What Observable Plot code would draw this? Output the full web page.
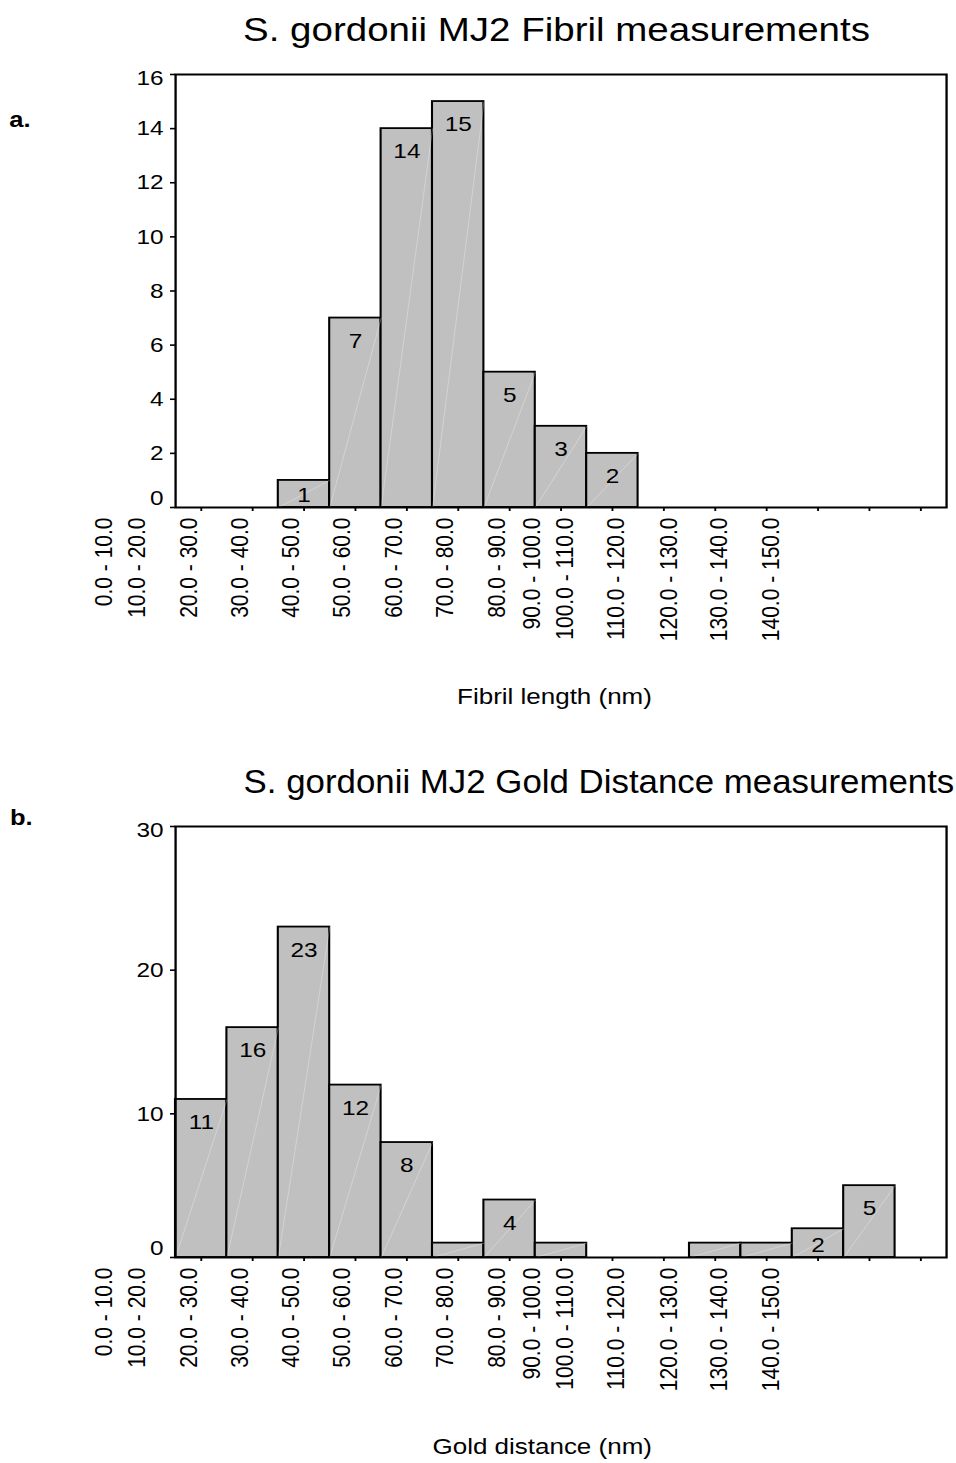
<!DOCTYPE html>
<html>
<head>
<meta charset="utf-8">
<script src="https://cdn.jsdelivr.net/npm/d3@7"></script>
<script src="https://cdn.jsdelivr.net/npm/@observablehq/plot@0.6"></script>
<style>
  html, body { margin: 0; padding: 0; background: #fff; overflow: hidden; }
  #stage { position: relative; width: 824.14px; height: 1463px; transform: scaleX(1.16); transform-origin: 0 0;
           font-family: "Liberation Sans", Arial, Helvetica, sans-serif; color: #000; }
  .abs { position: absolute; white-space: nowrap; line-height: 1; }
  .title { font-size: 33.2px; }
  .titleB { transform: scaleX(0.905); transform-origin: 0 0; }
  .panel { font-size: 22px; font-weight: bold; }
  .xtitle { font-size: 22.4px; text-align: right; }
</style>
</head>
<body>
<div id="stage">
  <div class="abs title" style="left:209.5px; top:13px;">S. gordonii MJ2 Fibril measurements</div>
  <div class="abs panel" style="left:8px; top:109px;">a.</div>
  <div class="abs" id="chartA" style="left:0; top:60px;"></div>
  <div class="abs xtitle" style="left:0; width:562px; top:686px;">Fibril length (nm)</div>

  <div class="abs title titleB" style="left:209.5px; top:765px;">S. gordonii MJ2 Gold Distance measurements</div>
  <div class="abs panel" style="left:8.6px; top:807px;">b.</div>
  <div class="abs" id="chartB" style="left:0; top:810px;"></div>
  <div class="abs xtitle" style="left:0; width:562px; top:1436px;">Gold distance (nm)</div>
</div>
<script>
// ---- data ----
const binLabels = ["0.0 - 10.0", "10.0 - 20.0", "20.0 - 30.0", "30.0 - 40.0", "40.0 - 50.0",
  "50.0 - 60.0", "60.0 - 70.0", "70.0 - 80.0", "80.0 - 90.0", "90.0 - 100.0",
  "100.0 - 110.0", "110.0 - 120.0", "120.0 - 130.0", "130.0 - 140.0", "140.0 - 150.0"];
// where each category label sits along the x axis (in bin units)
const labelTicks = [-1.38, -0.75, 0.26, 1.26, 2.24, 3.24, 4.25, 5.25, 6.26, 6.94, 7.59, 8.57, 9.6, 10.58, 11.58];

const fibrilCounts = [0, 0, 1, 7, 14, 15, 5, 3, 2, 0, 0, 0, 0, 0, 0];
const fibrilYTicks = [0, 2, 4, 6, 8, 10, 12, 14, 16];

const goldCounts = [11, 16, 23, 12, 8, 1, 4, 1, 0, 0, 1, 1, 2, 5, 0];
const goldYTicks = [0, 10, 20, 30];

// ---- drawing ----
const S = 1.16;
const W = 956 / S;
const H = 600;

function histogram(counts, yTicks, marginTop, marginBottom) {
  const yMax = yTicks[yTicks.length - 1];
  const innerH = H - marginTop - marginBottom;
  const ppu = innerH / yMax;
  const rows = counts.map((c, i) => ({lo: i, hi: i + 1, mid: i + 0.5, count: c, bin: binLabels[i]}))
                     .filter(d => d.count > 0);
  const tall = rows.filter(d => d.count * ppu >= 40);
  const short = rows.filter(d => d.count * ppu >= 24 && d.count * ppu < 40);
  const binCenters = counts.map((_, i) => i + 0.5);
  const midTicks = yTicks.slice(1, -1);
  return Plot.plot({
    width: W, height: H,
    marginLeft: 175 / S, marginRight: (956 - 946) / S,
    marginTop, marginBottom,
    style: {fontFamily: '"Liberation Sans", Arial, Helvetica, sans-serif', fontSize: "21px", color: "black", background: "transparent", overflow: "visible"},
    x: {domain: [0, counts.length], label: null},
    y: {domain: [0, yMax], label: null},
    marks: [
      Plot.rectY(rows, {x1: "lo", x2: "hi", y: "count", fill: "#c0c0c0", stroke: "black", strokeWidth: 1.8}),
      Plot.link(rows, {x1: "lo", y1: 0, x2: "hi", y2: "count", stroke: "white", strokeOpacity: 0.35, strokeWidth: 0.8}),
      Plot.frame({stroke: "black", strokeWidth: 2}),
      Plot.axisX({ticks: binCenters, tickSize: 4, tickFormat: () => "", strokeWidth: 1.6}),
      Plot.axisX({ticks: labelTicks, tickSize: 0, tickPadding: 10, tickRotate: -90,
                  tickFormat: d => binLabels[labelTicks.indexOf(d)], fontSize: 21,
                  textAnchor: "end", lineAnchor: "middle"}),
      Plot.axisY({ticks: yTicks, tickSize: 4.3, tickFormat: () => "", strokeWidth: 1.6}),
      Plot.text(midTicks, {frameAnchor: "left", y: d => d, text: d => String(d), textAnchor: "end", lineAnchor: "middle", dx: -10.3, fontSize: 21}),
      Plot.text([yTicks[yTicks.length - 1]], {frameAnchor: "left", y: d => d, text: d => String(d), textAnchor: "end", lineAnchor: "middle", dx: -10.3, dy: 4, fontSize: 21}),
      Plot.text([yTicks[0]], {frameAnchor: "left", y: d => d, text: d => String(d), textAnchor: "end", lineAnchor: "middle", dx: -10.3, dy: -9, fontSize: 21}),
      Plot.text(tall, {x: "mid", y: "count", text: d => String(d.count), lineAnchor: "middle", dy: 23, fontSize: 21}),
      Plot.text(short, {x: "mid", y: 0, text: d => String(d.count), lineAnchor: "middle", dy: -12, fontSize: 21})
    ]
  });
}

document.getElementById("chartA").appendChild(histogram(fibrilCounts, fibrilYTicks, 14, 153));
document.getElementById("chartB").appendChild(histogram(goldCounts, goldYTicks, 16, 153));
</script>
</body>
</html>
